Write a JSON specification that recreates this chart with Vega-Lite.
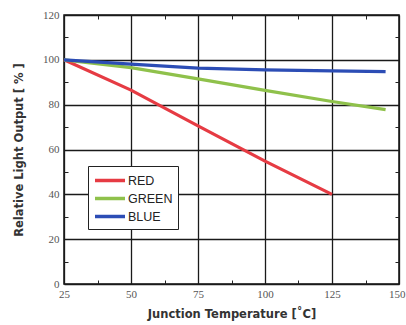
{
  "$schema": "https://vega.github.io/schema/vega-lite/v6.json",
  "autosize": "none",
  "width": 335,
  "height": 269,
  "padding": {"left": 64, "top": 15, "right": 7, "bottom": 41},
  "background": "white",
  "config": {
    "view": {"stroke": "#111", "strokeWidth": 1.5},
    "font": "Liberation Sans"
  },
  "data": {
    "values": [
      {"t": 25, "v": 100, "c": "RED"},
      {"t": 50, "v": 86.5, "c": "RED"},
      {"t": 75, "v": 70.5, "c": "RED"},
      {"t": 100, "v": 54.8, "c": "RED"},
      {"t": 125, "v": 40, "c": "RED"},
      {"t": 25, "v": 100, "c": "GREEN"},
      {"t": 50, "v": 96.5, "c": "GREEN"},
      {"t": 75, "v": 91.5, "c": "GREEN"},
      {"t": 100, "v": 86.4, "c": "GREEN"},
      {"t": 125, "v": 81.4, "c": "GREEN"},
      {"t": 145, "v": 77.8, "c": "GREEN"},
      {"t": 25, "v": 100, "c": "BLUE"},
      {"t": 50, "v": 98.1, "c": "BLUE"},
      {"t": 75, "v": 96.3, "c": "BLUE"},
      {"t": 100, "v": 95.5, "c": "BLUE"},
      {"t": 125, "v": 95.1, "c": "BLUE"},
      {"t": 145, "v": 94.7, "c": "BLUE"}
    ]
  },
  "resolve": {"axis": {"x": "independent", "y": "independent"}},
  "layer": [
    {
      "mark": {"type": "line", "opacity": 0},
      "encoding": {
        "x": {"field": "t", "type": "quantitative",
          "scale": {"domain": [25, 150], "nice": false, "zero": false},
          "axis": {"orient": "top", "values": [37.5, 62.5, 87.5, 112.5, 137.5], "tickSize": -4, "tickColor": "#222", "labels": false, "domain": false, "grid": false, "title": null}},
        "y": {"field": "v", "type": "quantitative",
          "scale": {"domain": [0, 120], "nice": false},
          "axis": {"orient": "right", "values": [10, 30, 50, 70, 90, 110], "tickSize": -4, "tickColor": "#222", "labels": false, "domain": false, "grid": false, "title": null}},
        "detail": {"field": "c"}
      }
    },
    {
      "mark": {"type": "line", "opacity": 0},
      "encoding": {
        "x": {"field": "t", "type": "quantitative",
          "axis": {"orient": "bottom", "values": [37.5, 62.5, 87.5, 112.5, 137.5], "tickSize": -4, "tickColor": "#222", "labels": false, "domain": false, "grid": false, "title": null}},
        "y": {"field": "v", "type": "quantitative",
          "axis": {"orient": "left", "values": [10, 30, 50, 70, 90, 110], "tickSize": -4, "tickColor": "#222", "labels": false, "domain": false, "grid": false, "title": null}},
        "detail": {"field": "c"}
      }
    },
    {
      "mark": {"type": "line", "strokeWidth": 3.2, "strokeCap": "butt"},
      "encoding": {
        "x": {"field": "t", "type": "quantitative",
          "axis": {"orient": "bottom", "values": [25, 50, 75, 100, 125, 150], "grid": true, "gridColor": "#1a1a1a", "gridOpacity": 1, "gridWidth": 1.3, "tickSize": 0, "domain": false,
            "labelFont": "Liberation Sans Narrow", "labelFontSize": 11, "labelColor": "#555", "labelPadding": 4, "labelFlush": false,
            "labelAlign": {"condition": {"test": "datum.value == 150", "value": "right"}, "value": "center"},
            "labelOffset": {"condition": {"test": "datum.value == 150", "value": 6}, "value": 0},
            "title": "Junction Temperature [\u02daC]", "titleFont": "DejaVu Sans", "titleFontWeight": "bold", "titleFontSize": 11.5, "titleColor": "#333", "titlePadding": 9}},
        "y": {"field": "v", "type": "quantitative",
          "axis": {"orient": "left", "values": [0, 20, 40, 60, 80, 100, 120], "grid": true, "gridColor": "#1a1a1a", "gridOpacity": 1, "gridWidth": 1.3, "tickSize": 0, "domain": false,
            "labelFont": "Liberation Sans Narrow", "labelFontSize": 11, "labelColor": "#555", "labelPadding": 5, "labelFlush": false,
            "title": "Relative Light Output [ % ]", "titleFont": "DejaVu Sans", "titleFontWeight": "bold", "titleFontSize": 11.5, "titleColor": "#333", "titlePadding": 18}},
        "color": {"field": "c", "type": "nominal",
          "scale": {"domain": ["RED", "GREEN", "BLUE"], "range": ["#e63b43", "#8fc14b", "#2c4db5"]},
          "legend": {"orient": "none", "legendX": 24, "legendY": 151, "title": null,
            "symbolType": "M-1,0H3", "symbolSize": 225, "symbolStrokeWidth": 3.5,
            "labelFont": "Liberation Sans", "labelFontSize": 12.5, "labelColor": "#222", "labelOffset": 16,
            "rowPadding": 1, "strokeColor": "#222", "fillColor": "white", "padding": 5,
            "symbolOffset": 0}},
        "order": {"field": "t", "type": "quantitative"}
      }
    }
  ]
}
